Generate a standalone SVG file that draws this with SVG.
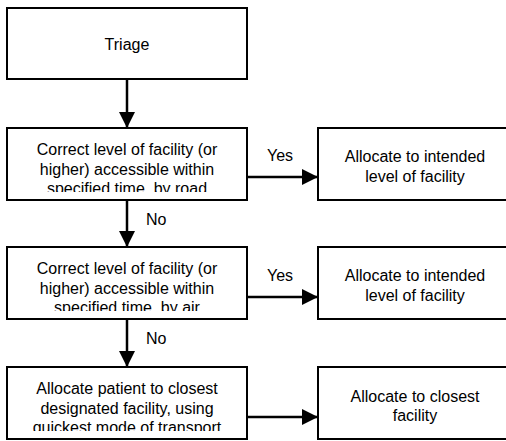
<svg xmlns="http://www.w3.org/2000/svg" width="506" height="441" viewBox="0 0 506 441">
<style>
.box{fill:#fff;stroke:#000;stroke-width:2}
.t{font-family:"Liberation Sans",Arial,sans-serif;font-size:16px;fill:#000;text-anchor:middle}
.lbl{font-family:"Liberation Sans",Arial,sans-serif;font-size:16px;fill:#000}
.c{stroke:#000;stroke-width:2.5;fill:none}
</style>
<defs>
<marker id="ah" markerUnits="userSpaceOnUse" markerWidth="16" markerHeight="16" refX="16" refY="8" orient="auto">
<path d="M0,0 L16,8 L0,16 Z" fill="#000"/>
</marker>
<clipPath id="c2"><rect x="8" y="129" width="238" height="63"/></clipPath>
<clipPath id="c3"><rect x="8" y="248" width="238" height="63"/></clipPath>
<clipPath id="c4"><rect x="8" y="368" width="238" height="63"/></clipPath>
</defs>
<g id="connectors">
<line class="c" x1="127" y1="79" x2="127" y2="128" marker-end="url(#ah)"/>
<line class="c" x1="127" y1="200" x2="127" y2="247" marker-end="url(#ah)"/>
<line class="c" x1="127" y1="319" x2="127" y2="367" marker-end="url(#ah)"/>
<line class="c" x1="247" y1="177" x2="318" y2="177" marker-end="url(#ah)"/>
<line class="c" x1="247" y1="297" x2="318" y2="297" marker-end="url(#ah)"/>
<line class="c" x1="247" y1="417" x2="318" y2="417" marker-end="url(#ah)"/>
<text class="lbl" x="267" y="161">Yes</text>
<text class="lbl" x="267" y="281">Yes</text>
<text class="lbl" x="146" y="225">No</text>
<text class="lbl" x="146" y="344">No</text>
</g>
<g id="triage">
<rect class="box" x="7" y="8" width="240" height="71"/>
<text class="t" x="127" y="50">Triage</text>
</g>
<g id="road">
<rect class="box" x="7" y="128" width="240" height="72"/>
<g clip-path="url(#c2)">
<text class="t" x="127" y="155">Correct level of facility (or</text>
<text class="t" x="127" y="174.5">higher) accessible within</text>
<text class="t" x="127" y="194">specified time, by road</text>
</g>
</g>
<g id="air">
<rect class="box" x="7" y="247" width="240" height="72"/>
<g clip-path="url(#c3)">
<text class="t" x="127" y="274">Correct level of facility (or</text>
<text class="t" x="127" y="293.5">higher) accessible within</text>
<text class="t" x="127" y="313">specified time, by air</text>
</g>
</g>
<g id="closest-designated">
<rect class="box" x="7" y="367" width="240" height="72"/>
<g clip-path="url(#c4)">
<text class="t" x="127" y="394">Allocate patient to closest</text>
<text class="t" x="127" y="413.5">designated facility, using</text>
<text class="t" x="127" y="433">quickest mode of transport</text>
</g>
</g>
<g id="intended1">
<rect class="box" x="318" y="128" width="194" height="72"/>
<text class="t" x="415" y="161.5">Allocate to intended</text>
<text class="t" x="415" y="181.5">level of facility</text>
</g>
<g id="intended2">
<rect class="box" x="318" y="247" width="194" height="72"/>
<text class="t" x="415" y="281">Allocate to intended</text>
<text class="t" x="415" y="301">level of facility</text>
</g>
<g id="closest">
<rect class="box" x="318" y="367" width="194" height="72"/>
<text class="t" x="415" y="401.5">Allocate to closest</text>
<text class="t" x="415" y="420.5">facility</text>
</g>
</svg>
